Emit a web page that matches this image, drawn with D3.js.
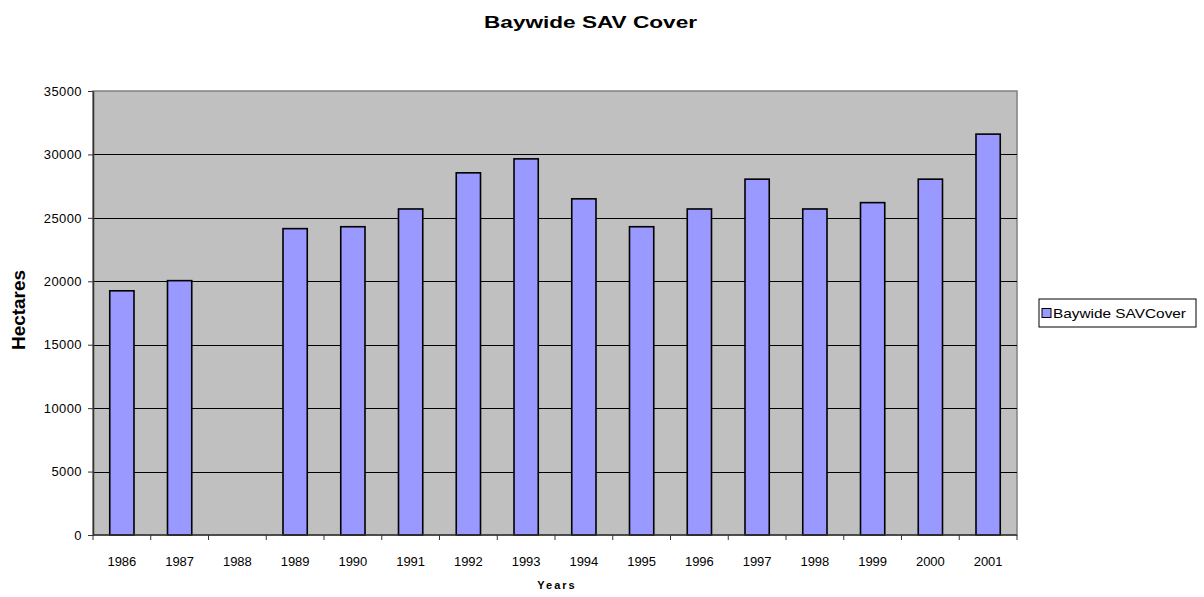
<!DOCTYPE html>
<html>
<head>
<meta charset="utf-8">
<script src="https://cdnjs.cloudflare.com/ajax/libs/d3/7.8.5/d3.min.js"></script>
<style>
  body { margin: 0; background: #fff; }
  svg { font-family: "Liberation Sans", Arial, sans-serif; }
</style>
</head>
<body>
<svg id="chart" width="1204" height="597"></svg>
<script>
// ---- data ----
const years = ['1986','1987','1988','1989','1990','1991','1992','1993',
               '1994','1995','1996','1997','1998','1999','2000','2001'];
const hectares = [19250, 20050, null, 24150, 24300, 25700, 28550, 29650,
                  26500, 24300, 25700, 28050, 25700, 26200, 28050, 31600];
const yTicks = [0, 5000, 10000, 15000, 20000, 25000, 30000, 35000];
const seriesName = 'Baywide SAVCover';

// ---- layout ----
const plot = {left: 93, top: 91, right: 1017, bottom: 535};
const svg = d3.select('#chart');

const x = d3.scaleBand()
  .domain(years)
  .range([plot.left, plot.right])
  .paddingInner(0.58)
  .paddingOuter(0.29);

const y = d3.scaleLinear()
  .domain([0, 35000])
  .range([plot.bottom, plot.top]);

// plot background
svg.append('rect')
  .attr('x', plot.left).attr('y', plot.top)
  .attr('width', plot.right - plot.left)
  .attr('height', plot.bottom - plot.top)
  .attr('fill', '#c0c0c0')
  .attr('stroke', '#808080')
  .attr('stroke-width', 1.5);

// gridlines
svg.append('g')
  .selectAll('line')
  .data(yTicks.filter(d => d > 0 && d < 35000))
  .enter()
  .append('line')
    .attr('x1', plot.left).attr('x2', plot.right)
    .attr('y1', d => Math.round(y(d)) + 0.5)
    .attr('y2', d => Math.round(y(d)) + 0.5)
    .attr('stroke', '#000')
    .attr('stroke-width', 1);

// bars
svg.append('g')
  .selectAll('rect')
  .data(years.map((d, i) => ({year: d, value: hectares[i]})).filter(d => d.value != null))
  .enter()
  .append('rect')
    .attr('x', d => x(d.year))
    .attr('y', d => y(d.value))
    .attr('width', x.bandwidth())
    .attr('height', d => plot.bottom - y(d.value))
    .attr('fill', '#9999ff')
    .attr('stroke', '#000')
    .attr('stroke-width', 1.6);

// y axis
const yAxis = svg.append('g')
  .attr('transform', 'translate(' + plot.left + ',0)')
  .call(d3.axisLeft(y).tickValues(yTicks).tickSize(5).tickSizeOuter(0).tickFormat(d3.format('d')));
yAxis.select('.domain').attr('stroke', '#333').attr('stroke-width', 1.5);
yAxis.selectAll('.tick line').attr('stroke', '#333');
yAxis.selectAll('text')
  .attr('font-size', 13)
  .attr('letter-spacing', 0.4)
  .attr('fill', '#000')
  .attr('font-family', '"Liberation Sans", Arial, sans-serif')
  .attr('x', -11);

// x axis (ticks between categories)
const step = x.step();
const boundaries = d3.range(years.length + 1).map(i => plot.left + i * step);
svg.append('line')
  .attr('x1', plot.left).attr('x2', plot.right)
  .attr('y1', plot.bottom).attr('y2', plot.bottom)
  .attr('stroke', '#333').attr('stroke-width', 1.5);
svg.append('g')
  .selectAll('line')
  .data(boundaries)
  .enter()
  .append('line')
    .attr('x1', d => d).attr('x2', d => d)
    .attr('y1', plot.bottom).attr('y2', plot.bottom + 5)
    .attr('stroke', '#333');
svg.append('g')
  .selectAll('text')
  .data(years)
  .enter()
  .append('text')
    .attr('x', d => x(d) + x.bandwidth() / 2)
    .attr('y', 566)
    .attr('text-anchor', 'middle')
    .attr('font-size', 13)
    .text(d => d);

// titles
svg.append('text')
  .attr('x', 484).attr('y', 28)
  .attr('font-size', 16).attr('font-weight', 'bold')
  .attr('textLength', 213).attr('lengthAdjust', 'spacingAndGlyphs')
  .text('Baywide SAV Cover');

svg.append('text')
  .attr('x', 557).attr('y', 589)
  .attr('text-anchor', 'middle')
  .attr('font-size', 11).attr('font-weight', 'bold')
  .attr('letter-spacing', 2)
  .text('Years');

svg.append('text')
  .attr('transform', 'translate(25,350) rotate(-90)')
  .attr('font-size', 18).attr('font-weight', 'bold')
  .attr('textLength', 80).attr('lengthAdjust', 'spacingAndGlyphs')
  .text('Hectares');

// legend
const legend = svg.append('g').attr('transform', 'translate(1039,299)');
legend.append('rect')
  .attr('width', 157).attr('height', 28)
  .attr('fill', '#fff').attr('stroke', '#000');
legend.append('rect')
  .attr('x', 3).attr('y', 9.5).attr('width', 9).attr('height', 9)
  .attr('fill', '#9999ff').attr('stroke', '#000');
legend.append('text')
  .attr('x', 14).attr('y', 19)
  .attr('font-size', 13)
  .attr('textLength', 133).attr('lengthAdjust', 'spacingAndGlyphs')
  .text(seriesName);
</script>
</body>
</html>
